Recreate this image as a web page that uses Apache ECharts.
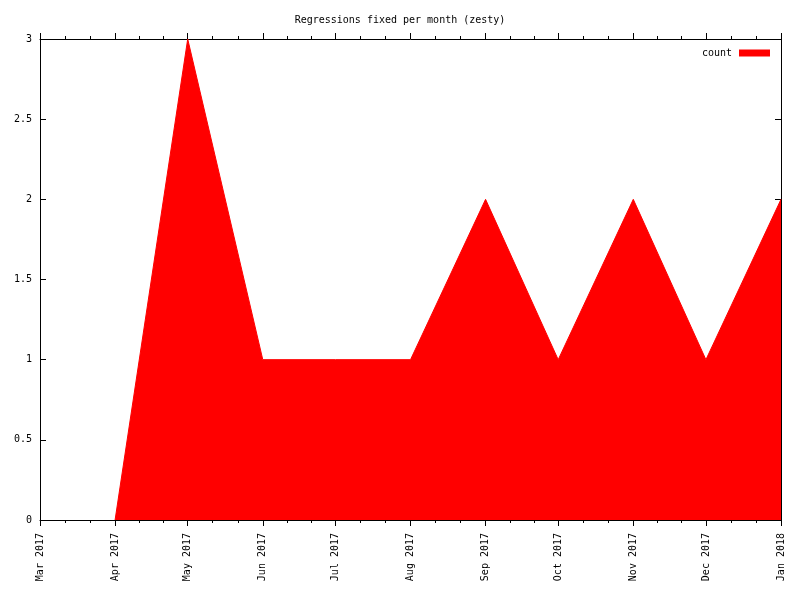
<!DOCTYPE html>
<html>
<head>
<meta charset="utf-8">
<script src="https://cdn.jsdelivr.net/npm/echarts@6/dist/echarts.min.js"></script>
<style>html,body{margin:0;padding:0;background:#fff}#c{width:800px;height:600px}</style>
</head>
<body>
<div id="c"></div>
<script>
// Data
const months = ['2017-04','2017-05','2017-06','2017-07','2017-08','2017-09','2017-10','2017-11','2017-12','2018-01'];
const counts = [0, 3, 1, 1, 1, 2, 1, 2, 1, 2];
const tickMonths = ['2017-03','2017-04','2017-05','2017-06','2017-07','2017-08','2017-09','2017-10','2017-11','2017-12','2018-01'];
const monthNames = ['Jan','Feb','Mar','Apr','May','Jun','Jul','Aug','Sep','Oct','Nov','Dec'];
const yTicks = [0, 0.5, 1, 1.5, 2, 2.5, 3];

function ts(s){ const p = s.split('-'); return Date.UTC(+p[0], +p[1]-1, 1); }
const majors = tickMonths.map(ts);
const minors = [];
for (let i = 0; i < majors.length - 1; i++) {
  const d = (majors[i+1] - majors[i]) / 3;
  minors.push(majors[i] + d, majors[i] + 2*d);
}
function fmt(v){ const d = new Date(v); return monthNames[d.getUTCMonth()] + ' ' + d.getUTCFullYear(); }

const font = 'DejaVu Sans Mono';
const xmin = majors[0], xmax = majors[majors.length-1];
const lineStyle = {color:'#000', width:1};

const chart = echarts.init(document.getElementById('c'));
chart.setOption({
  animation: false,
  backgroundColor: '#fff',
  title: {text: 'Regressions fixed per month (zesty)', left: 'center', top: 10,
    textStyle: {fontFamily: font, fontSize: 10, fontWeight: 'normal', color: '#000'}},
  legend: {right: 25, top: 43, align: 'right', itemWidth: 31, itemHeight: 7, icon: 'rect', itemGap: 10,
    textStyle: {fontFamily: font, fontSize: 10, color: '#000', padding: [0, 2, 0, 0]},
    data: [{name: 'count', itemStyle: {color: '#ff0000'}}]},
  grid: {left: 40, right: 19, top: 39, bottom: 80},
  xAxis: [
    {type: 'value', min: xmin, max: xmax, position: 'bottom',
     axisLine: {show: true, lineStyle}, splitLine: {show: false},
     axisTick: {show: true, inside: false, length: 6, lineStyle, customValues: majors},
     axisLabel: {show: true, rotate: 90, margin: 13, fontFamily: font, fontSize: 10, color: '#000',
       customValues: majors, formatter: fmt}},
    {type: 'value', min: xmin, max: xmax, position: 'bottom',
     axisLine: {show: false}, splitLine: {show: false},
     axisTick: {show: true, inside: false, length: 3, lineStyle, customValues: minors},
     axisLabel: {show: false}},
    {type: 'value', min: xmin, max: xmax, position: 'top',
     axisLine: {show: true, lineStyle}, splitLine: {show: false},
     axisTick: {show: true, inside: false, length: 6, lineStyle, customValues: majors},
     axisLabel: {show: false}},
    {type: 'value', min: xmin, max: xmax, position: 'top',
     axisLine: {show: false}, splitLine: {show: false},
     axisTick: {show: true, inside: false, length: 3, lineStyle, customValues: minors},
     axisLabel: {show: false}}
  ],
  yAxis: [
    {type: 'value', min: 0, max: 3, interval: 0.5, position: 'left',
     axisLine: {show: true, lineStyle}, splitLine: {show: false},
     axisTick: {show: true, inside: true, length: 6, lineStyle},
     axisLabel: {show: true, margin: 8, fontFamily: font, fontSize: 10, color: '#000',
       customValues: yTicks, formatter: v => String(v)}},
    {type: 'value', min: 0, max: 3, interval: 0.5, position: 'right',
     axisLine: {show: true, lineStyle}, splitLine: {show: false},
     axisTick: {show: true, inside: true, length: 6, lineStyle},
     axisLabel: {show: false}}
  ],
  series: [{
    name: 'count', type: 'line', xAxisIndex: 0, yAxisIndex: 0,
    data: months.map((m, i) => [ts(m), counts[i]]),
    symbol: 'none', itemStyle: {color: '#ff0000'},
    lineStyle: {color: '#ff0000', width: 1},
    areaStyle: {color: '#ff0000', opacity: 1}
  }]
});
</script>
</body>
</html>
